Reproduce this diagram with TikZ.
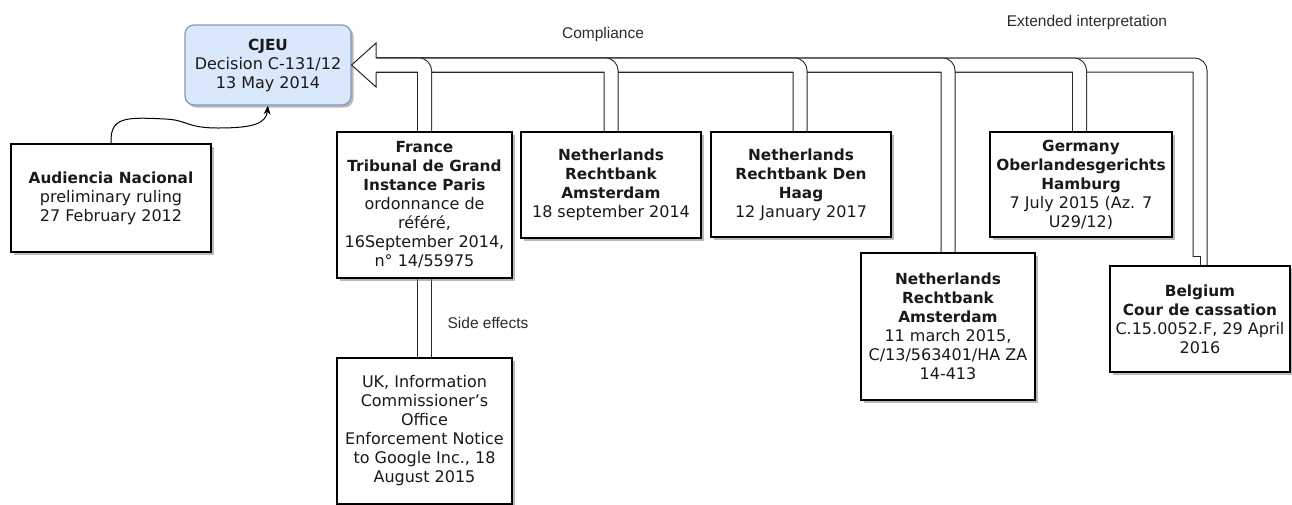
\documentclass[tikz,border=0pt]{standalone}
\usepackage{fontspec}
\setmainfont{DejaVu Sans}
\newfontfamily\labfont{Liberation Sans}
\usetikzlibrary{shadows,calc,arrows.meta,backgrounds}
\newcommand\hd[1]{{\fontsize{15.3}{19}\selectfont\bfseries #1}}
\definecolor{cjeufill}{HTML}{DAE8FC}
\definecolor{cjeuline}{HTML}{7F98BF}
\definecolor{labcol}{HTML}{2B2B2B}
\begin{document}
\begin{tikzpicture}[x=1pt,y=-1pt,
  box/.style={draw=black, line width=1.6pt, fill=white, inner sep=0pt, align=center,
    font=\fontsize{16}{19}\selectfont, text=black!90,
    drop shadow={shadow xshift=2.5pt,shadow yshift=-2.5pt,fill=black!50,opacity=.55}},
  cjeubox/.style={box, draw=cjeuline, line width=1.2pt, fill=cjeufill, rounded corners=9pt},
  dlink/.style={draw=black!85, line width=1pt, double=white, double distance=13pt, rounded corners=6pt},
  thinline/.style={draw=black!85, line width=1pt},
  lab/.style={font=\labfont\fontsize{15.5}{18}\selectfont, text=labcol, inner sep=0pt}]
\useasboundingbox (0,0) rectangle (1292,504);
\clip (0,0) rectangle (1292,504);

% ---- boxes
\node[cjeubox, minimum width=166pt, minimum height=80pt] (cjeu) at (268,65)
  {\hd{CJEU}\\Decision C-131/12\\13 May 2014};
\node[box, minimum width=200pt, minimum height=108pt] (aud) at (111,198)
  {\hd{Audiencia Nacional}\\preliminary ruling\\27 February 2012};
\node[box, minimum width=175pt, minimum height=146pt] (fr) at (424.5,205)
  {\hd{France}\\\hd{Tribunal de Grand}\\\hd{Instance Paris}\\ordonnance de\\référé,\\16September 2014,\\n° 14/55975};
\node[box, minimum width=180pt, minimum height=106pt] (ams1) at (611,185)
  {\hd{Netherlands}\\\hd{Rechtbank}\\\hd{Amsterdam}\\18 september 2014};
\node[box, minimum width=180pt, minimum height=105pt] (dh) at (801,184.5)
  {\hd{Netherlands}\\\hd{Rechtbank Den}\\\hd{Haag}\\12 January 2017};
\node[box, minimum width=182pt, minimum height=105pt] (ger) at (1081,184.5)
  {\hd{Germany}\\\hd{Oberlandesgerichts}\\\hd{Hamburg}\\7 July 2015 (Az. 7\\U29/12)};
\node[box, minimum width=174pt, minimum height=147pt] (ams2) at (948,326.5)
  {\hd{Netherlands}\\\hd{Rechtbank}\\\hd{Amsterdam}\\11 march 2015,\\C/13/563401/HA ZA\\14-413};
\node[box, minimum width=180pt, minimum height=106pt] (bel) at (1200,319)
  {\hd{Belgium}\\\hd{Cour de cassation}\\C.15.0052.F, 29 April\\2016};
\node[box, minimum width=175pt, minimum height=146pt] (uk) at (424.5,431)
  {UK, Information\\Commissioner’s\\Office\\Enforcement Notice\\to Google Inc., 18\\August 2015};

\coordinate (ah) at (376,65);

% ---- double links, behind the boxes, drawn from right to left
\begin{scope}[on background layer]
\draw[dlink] (bel.north) |- (ah);
\fill[white] ($(bel.north)+(-8.5,-8.5)$) rectangle ($(bel.north)+(-0.5,0)$);
\draw[thinline] ($(bel.north)+(-7,-9)$) -- ($(bel.north)+(0,-9)$) -- (bel.north);
\draw[dlink] ($(ger.north)+(-1.5,0)$) |- (ah);
\draw[dlink] (ams2.north) |- (ah);
\draw[dlink] ($(dh.north)+(-1,0)$) |- (ah);
\draw[dlink] (ams1.north) |- (ah);
\draw[dlink] (fr.north) |- (ah);
\draw[dlink] (fr.south) -- (uk.north);
\end{scope}

% ---- big hollow arrow head
\filldraw[thinline, fill=white, line join=miter]
  ($(ah)+(0,-7)$) -- ($(ah)+(0,-22)$) -- (cjeu.east) -- ($(ah)+(0,22)$) -- ($(ah)+(0,7)$);

% ---- curved connector
\draw[line width=1pt, -{Stealth[length=9pt,width=7pt]}]
  (aud.north) .. controls (110,117) and (125,117) .. (165,119)
  .. controls (188,120) and (186,128) .. (218,128)
  .. controls (252,128) and (266,124) .. (cjeu.south);

% ---- labels
\node[lab] (compl) at (603,34) {Compliance};
\node[lab] (ext) at (1087,22) {Extended interpretation};
\node[lab] (side) at (488,323) {Side effects};
\end{tikzpicture}
\end{document}
